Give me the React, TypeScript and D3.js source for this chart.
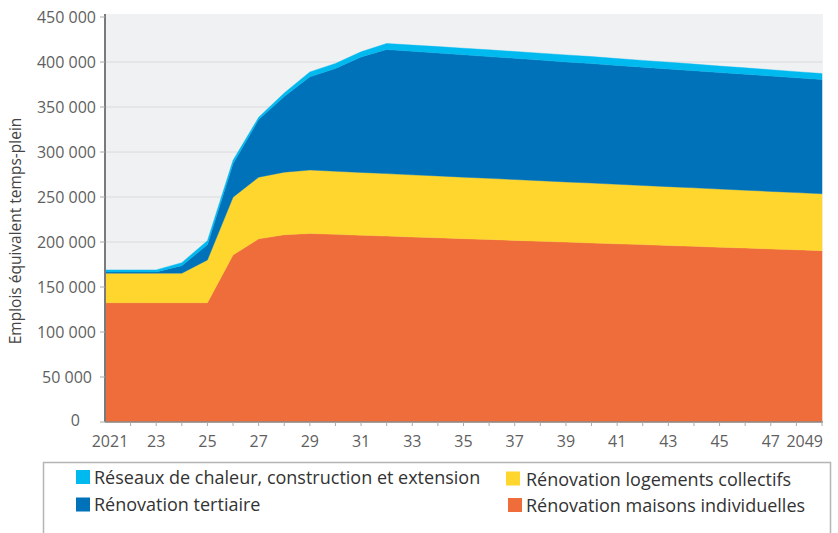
import React from "react";
import * as d3 from "d3";

const years: number[] = d3.range(2021, 2050);

const maisons: number[] = [
  132.5, 132.5, 132.5, 132.5, 132.5, 185.6, 203.5, 208, 209.5, 208.5,
  207.5, 206.6, 205.6, 204.7, 203.7, 202.8, 201.8, 200.9, 199.9, 199.0,
  198.0, 197.1, 196.1, 195.2, 194.2, 193.3, 192.3, 191.4, 190.4,
].map((v) => v * 1000);

const collectifs: number[] = [
  32.8, 32.8, 32.8, 32.8, 47.5, 64.2, 68.5, 69.6, 70.5, 70.1,
  69.8, 69.4, 69.0, 68.7, 68.3, 67.9, 67.6, 67.2, 66.8, 66.5,
  66.1, 65.7, 65.4, 65.0, 64.6, 64.3, 63.9, 63.5, 63.2,
].map((v) => v * 1000);

const tertiaire: number[] = [
  1.5, 1.5, 1.5, 8.4, 17, 37.2, 64, 84, 103.5, 114.3,
  128.3, 137.9, 137.3, 136.6, 136.0, 135.3, 134.7, 134.0, 133.4, 132.7,
  132.1, 131.4, 130.8, 130.1, 129.5, 128.8, 128.2, 127.5, 126.9,
].map((v) => v * 1000);

const reseaux: number[] = [
  2.2, 2.2, 2.2, 3.3, 4.5, 3.8, 2.5, 4, 5.5, 5.5,
  5.8, 6.7, 6.9, 7.1, 7.3, 7.5, 7.6, 7.7, 7.8, 7.8,
  7.7, 7.6, 7.5, 7.4, 7.2, 7.1, 7.0, 6.9, 6.7,
].map((v) => v * 1000);

const yTicks: number[] = [0, 50000, 100000, 150000, 200000, 250000, 300000, 350000, 400000, 450000];
const xLabelYears: number[] = d3.range(2021, 2050, 2);

const seriesKeys = ["maisons", "collectifs", "tertiaire", "reseaux"];
const seriesNames: Record<string, string> = {
  reseaux: "Réseaux de chaleur, construction et extension",
  tertiaire: "Rénovation tertiaire",
  collectifs: "Rénovation logements collectifs",
  maisons: "Rénovation maisons individuelles",
};
const colors: Record<string, string> = {
  maisons: "#ef6d3a",
  collectifs: "#fed62d",
  tertiaire: "#0072b9",
  reseaux: "#00b9ee",
};

const yTitle = "Emplois équivalent temps-plein";

const fmt = (v: number) => (v === 0 ? "0" : d3.format(",")(v).replace(/,/g, " "));

export default function App() {
  const W = 838;
  const H = 533;
  const left = 105;
  const right = 822;
  const top = 17;
  const bottom = 422;

  const table = years.map((y, i) => ({
    year: y,
    maisons: maisons[i],
    collectifs: collectifs[i],
    tertiaire: tertiaire[i],
    reseaux: reseaux[i],
  }));

  const stack = d3.stack<any>().keys(seriesKeys);
  const stacked = stack(table);

  const x = d3.scaleLinear().domain([2021, 2049]).range([left, right]);
  const y = d3.scaleLinear().domain([0, 450000]).range([bottom, top]);

  const area = d3
    .area<any>()
    .x((d: any) => x(d.data.year))
    .y0((d: any) => y(d[0]))
    .y1((d: any) => y(d[1]));

  const font = "'Open Sans', sans-serif";

  const legendItems = [
    { key: "reseaux", sx: 76, sy: 470, tx: 94, ty: 478 },
    { key: "tertiaire", sx: 76, sy: 497.5, tx: 94, ty: 505 },
    { key: "collectifs", sx: 506, sy: 471.5, tx: 526, ty: 479.5 },
    { key: "maisons", sx: 508, sy: 498, tx: 526, ty: 506 },
  ];

  const yLabelRight = (t: number) => (t === 0 ? 80 : t === 50000 ? 92 : 96);

  return (
    <svg
      width={W}
      height={H}
      style={{ position: "absolute", left: 0, top: 0, background: "#fff" }}
      fontFamily={font}
    >
      <rect x={left} y={14} width={right - left + 1} height={bottom - 14} fill="#f0f1f3" />
      {yTicks
        .filter((t) => t > 0 && t < 450000)
        .map((t) => (
          <line key={"g" + t} x1={left} x2={right} y1={y(t)} y2={y(t)} stroke="#d9dadd" strokeWidth={1} />
        ))}
      {stacked.map((s: any) => (
        <path key={s.key} d={area(s) || ""} fill={colors[s.key]} stroke={colors[s.key]} strokeWidth={0.4} />
      ))}
      {/* axes */}
      <line x1={left} x2={left} y1={14} y2={bottom} stroke="#7a7a7a" strokeWidth={2} />
      <line x1={left} x2={right + 1} y1={bottom} y2={bottom} stroke="#8a8a8a" strokeWidth={1.5} />
      {yTicks.map((t) => (
        <g key={"yt" + t}>
          <line x1={left - 5} x2={left} y1={y(t)} y2={y(t)} stroke="#aaa" strokeWidth={1} />
          <text x={yLabelRight(t)} y={y(t) - (t === 0 ? 2 : 0)} dy="0.35em" textAnchor="end" fontSize={16} fill="#5f5f5f">
            {fmt(t)}
          </text>
        </g>
      ))}
      {years.slice(1).map((yr) => (
        <line key={"xt" + yr} x1={x(yr)} x2={x(yr)} y1={bottom} y2={bottom + 4} stroke="#aaa" strokeWidth={1} />
      ))}
      {xLabelYears.map((yr, i) => {
        const isFirst = i === 0;
        const isLast = yr === 2049;
        const label = isFirst || isLast ? String(yr) : String(yr).slice(2);
        return (
          <text
            key={"xl" + yr}
            x={isFirst ? x(yr) + 5 : isLast ? x(yr) + 1 : x(yr)}
            y={441}
            dy="0.35em"
            textAnchor={isLast ? "end" : "middle"}
            fontSize={16}
            fill="#5f5f5f"
          >
            {label}
          </text>
        );
      })}
      <text
        transform={`translate(16, 231) rotate(-90)`}
        textAnchor="middle"
        dy="0.35em"
        fontSize={15.5}
        fill="#444"
      >
        {yTitle}
      </text>
      {/* legend */}
      <rect x={43.5} y={462.5} width={787} height={100} fill="#fff" stroke="#b5b5b5" strokeWidth={1.5} />
      {legendItems.map((it) => (
        <g key={"lg" + it.key}>
          <rect x={it.sx} y={it.sy} width={14} height={14} fill={colors[it.key]} />
          <text x={it.tx} y={it.ty} dy="0.35em" fontSize={18} fill="#333">
            {seriesNames[it.key]}
          </text>
        </g>
      ))}
    </svg>
  );
}
